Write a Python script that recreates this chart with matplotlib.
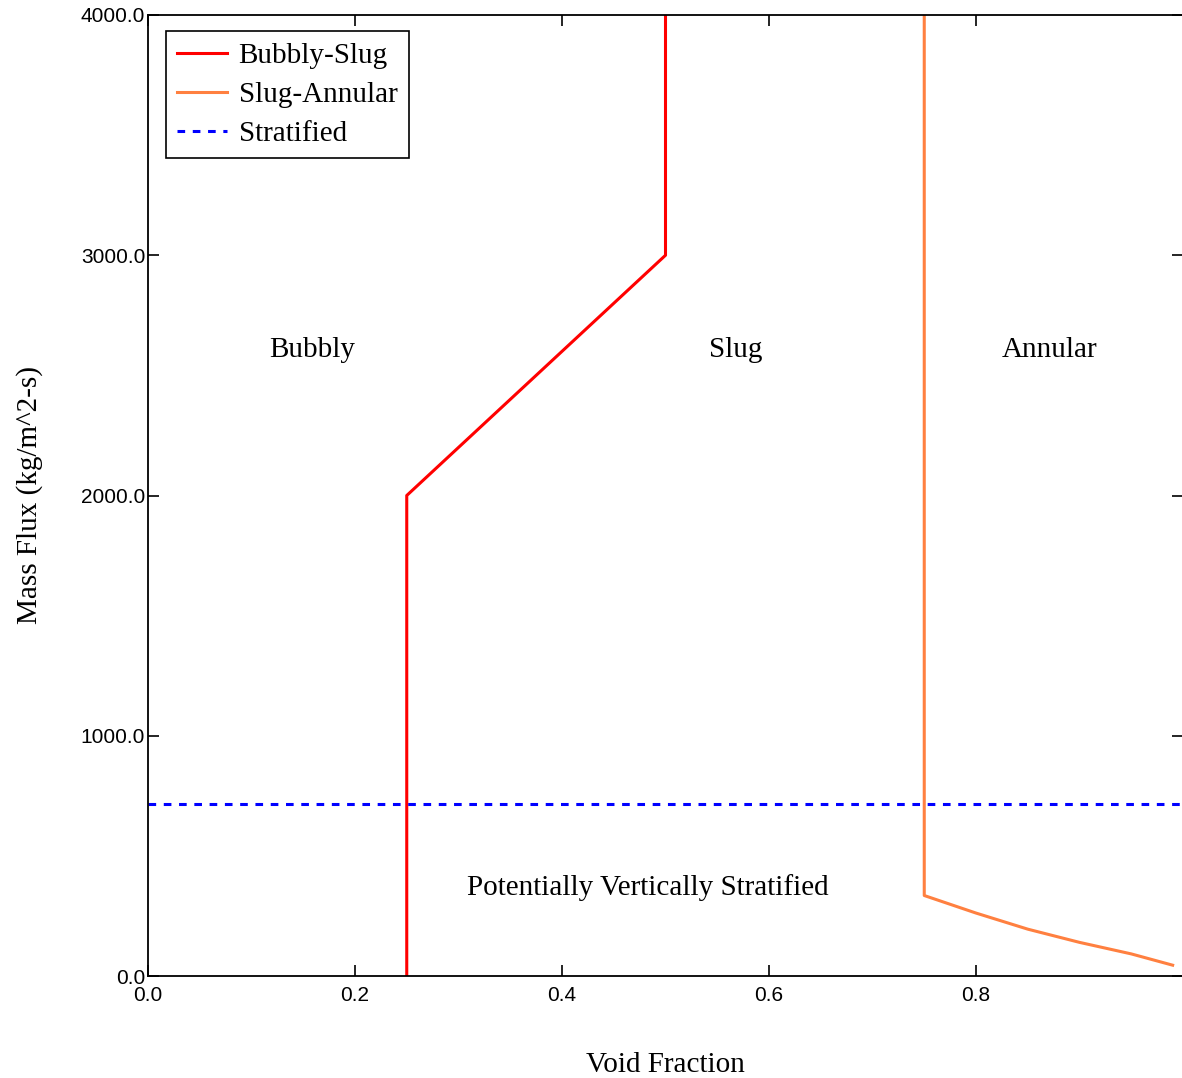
"""Flow regime map: void fraction vs mass flux."""

import matplotlib
matplotlib.use("Agg")
import matplotlib.pyplot as plt

# Bubbly-Slug boundary
bs_void = [0.25, 0.25, 0.5, 0.5]
bs_flux = [0.0, 2000.0, 3000.0, 4000.0]

# Slug-Annular boundary
sa_void = [0.75, 0.75, 0.80, 0.85, 0.90, 0.95, 0.99]
sa_flux = [4000.0, 335.0, 262.0, 195.0, 140.0, 92.0, 45.0]

# Stratified threshold
strat_flux = 715.0

regions = ["Bubbly", "Slug", "Annular", "Potentially Vertically Stratified"]
region_x = [0.159, 0.568, 0.871, 0.483]
region_y = [2606.0, 2606.0, 2606.0, 370.0]

x_ticks = [0.0, 0.2, 0.4, 0.6, 0.8]
y_ticks = [0.0, 1000.0, 2000.0, 3000.0, 4000.0]

W, H = 1182, 1078
fig = plt.figure(figsize=(W / 100, H / 100), dpi=100)
ax = fig.add_axes([148 / W, 1 - 976 / H, 1035 / W, 961 / H])

serif = "Liberation Serif"
sans = "Liberation Sans"
fs = 21

ax.plot(bs_void, bs_flux, color="#ff0000", linewidth=2.2, label="Bubbly-Slug")
ax.plot(sa_void, sa_flux, color="#ff8040", linewidth=2.2, label="Slug-Annular")
ax.axhline(strat_flux, color="#0000ff", linewidth=2.2, linestyle=(0, (2.5, 2.5)), label="Stratified")

for name, rx, ry in zip(regions, region_x, region_y):
    ax.text(rx, ry, name, ha="center", va="center", fontsize=fs, family=serif)

ax.set_xlim(0, 1.0)
ax.set_ylim(0, 4000)
ax.set_xticks(x_ticks)
ax.set_yticks(y_ticks)
ax.set_xticklabels([f"{v:.1f}" for v in x_ticks], family=sans, fontsize=15)
ax.set_yticklabels([f"{v:.1f}" for v in y_ticks], family=sans, fontsize=15)
ax.tick_params(direction="in", length=8, width=1.2, top=True, right=True)
ax.tick_params(axis="x", pad=7)
ax.tick_params(axis="y", pad=2)
for spine in ax.spines.values():
    spine.set_linewidth(1.3)

ax.set_xlabel("Void Fraction", family=serif, fontsize=fs, labelpad=34)
ax.set_ylabel("Mass Flux (kg/m^2-s)", family=serif, fontsize=fs, labelpad=27)

leg = ax.legend(loc="upper left", bbox_to_anchor=(0.017, 0.983), fancybox=False,
                framealpha=1, edgecolor="black", prop={"family": serif, "size": fs},
                handlelength=1.7, handletextpad=0.4, borderpad=0.4, labelspacing=0.42,
                borderaxespad=0)
leg.get_frame().set_linewidth(1.2)

fig.savefig("out.png", dpi=100)
